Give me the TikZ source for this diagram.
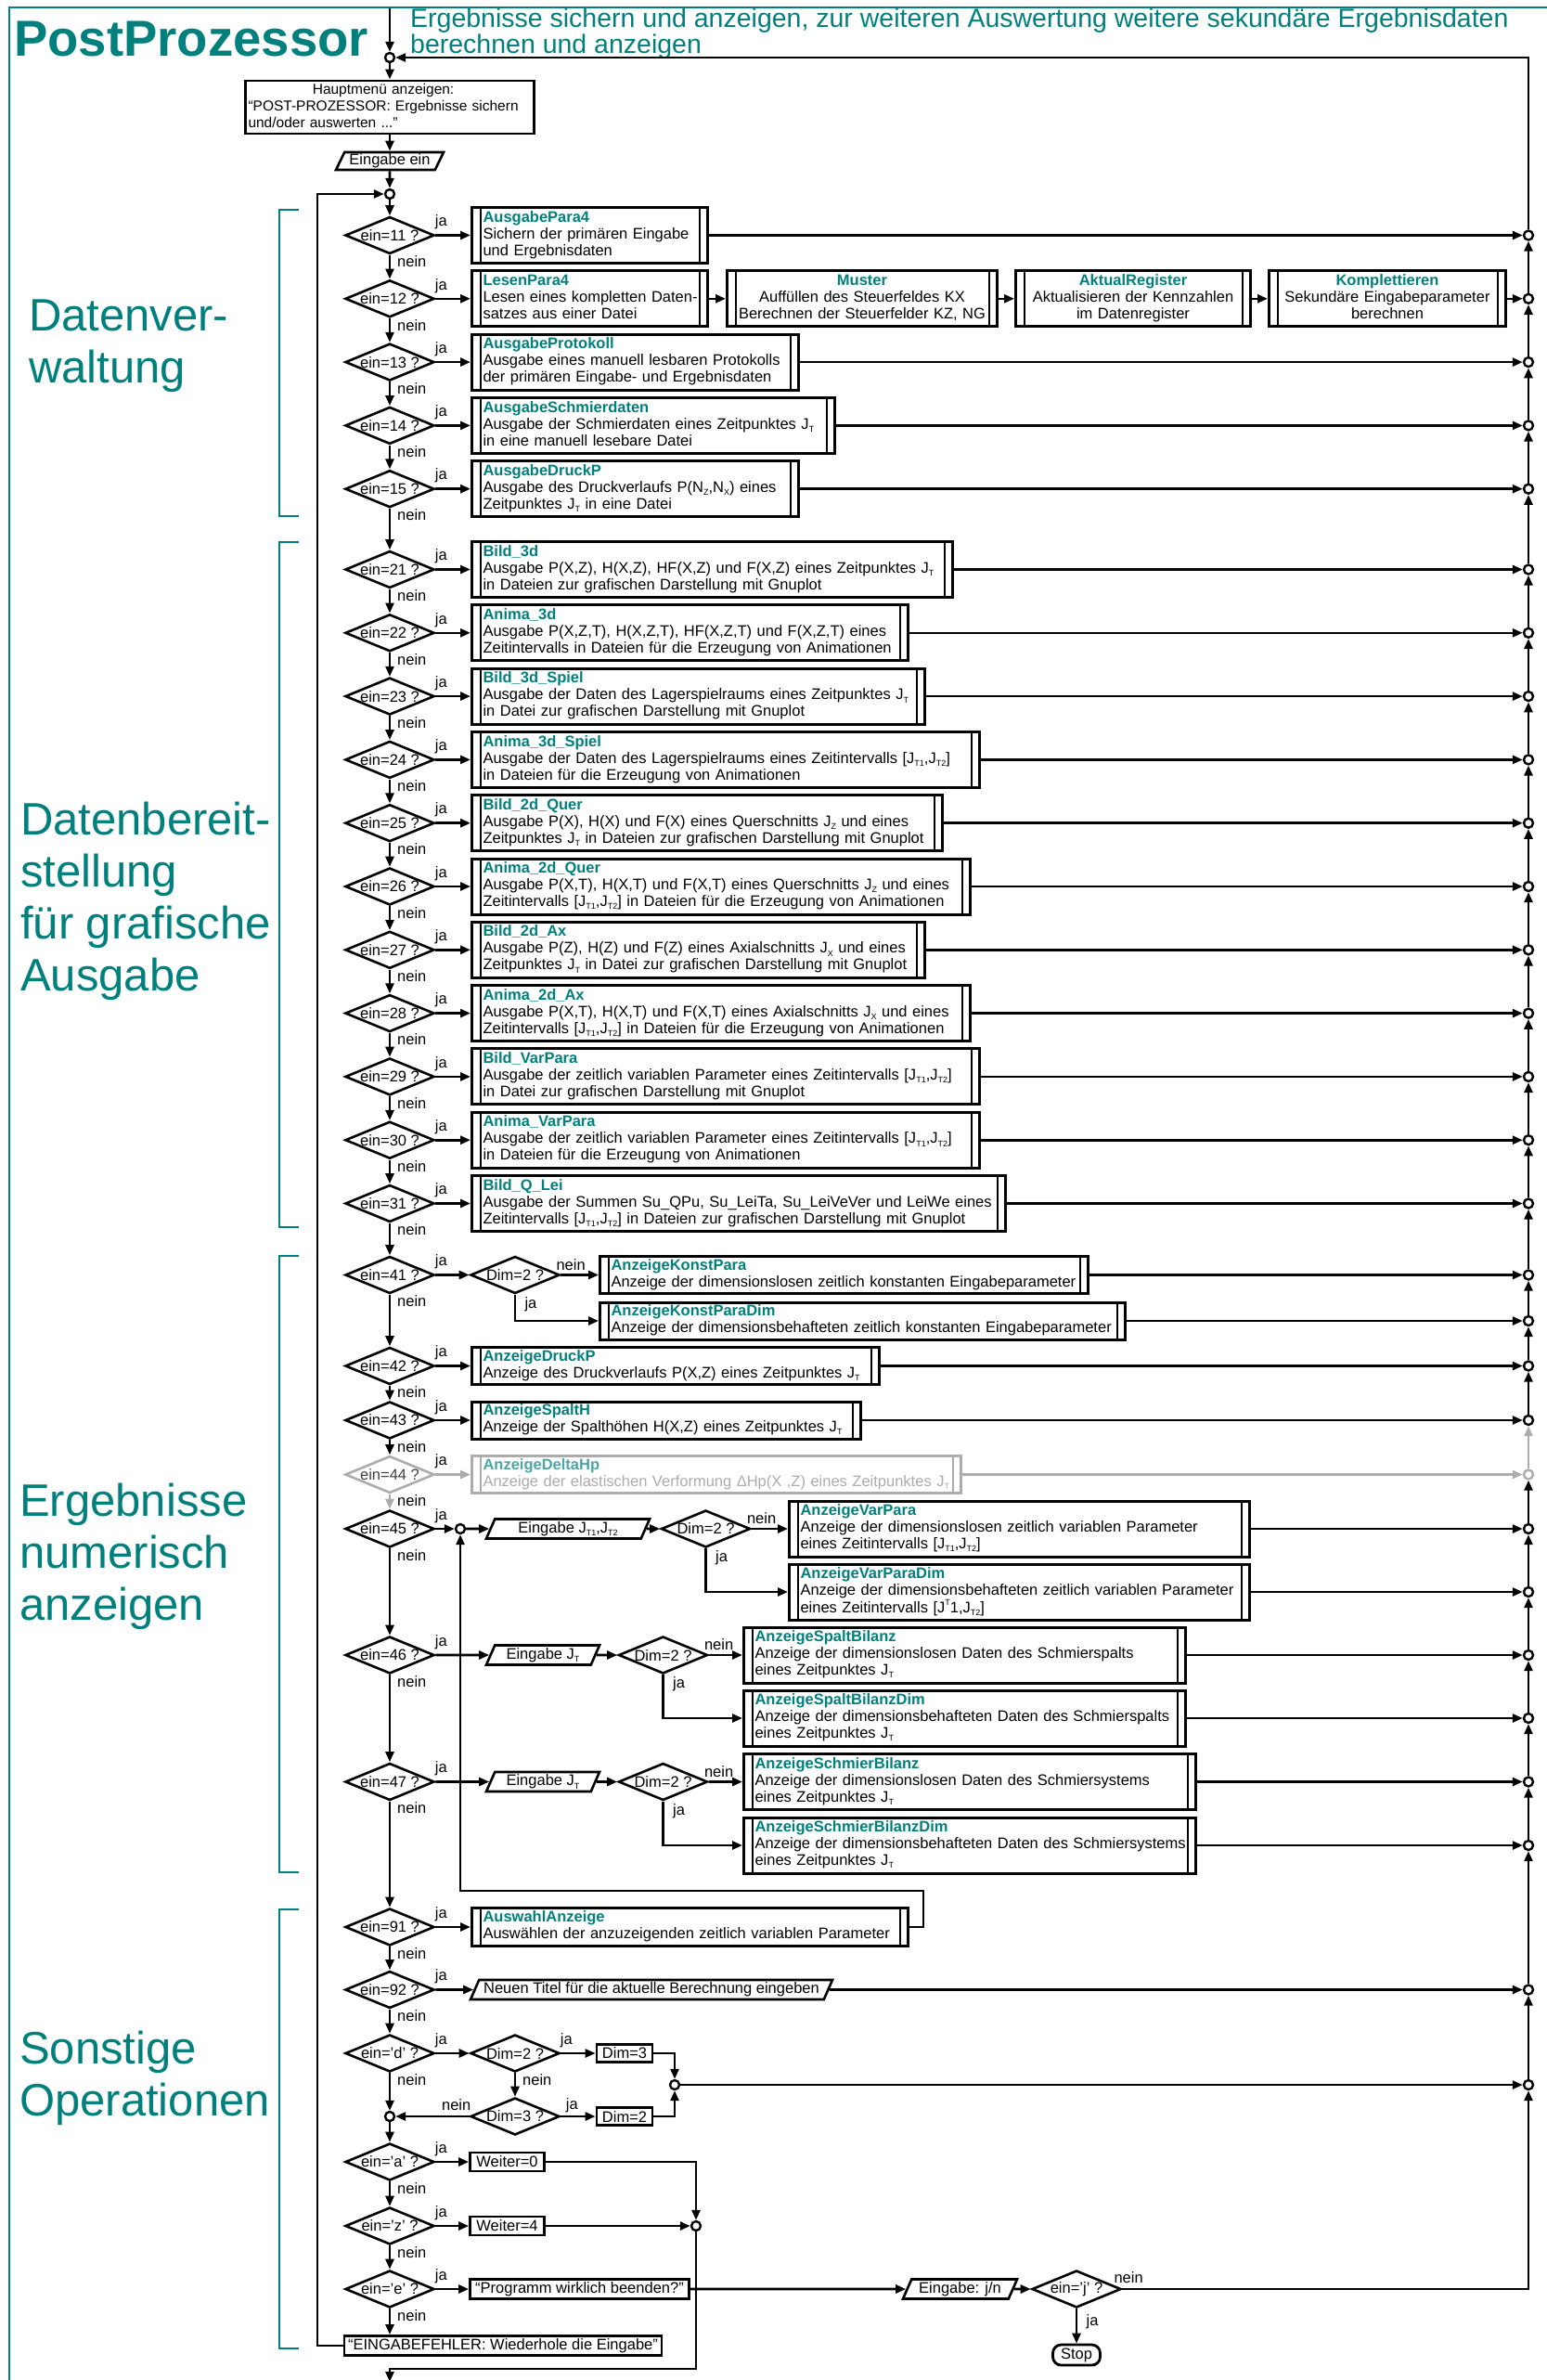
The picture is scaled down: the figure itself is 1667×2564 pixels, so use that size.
\documentclass[tikz,border=0pt]{standalone}
\usepackage{fontspec}
\setmainfont{Liberation Sans}
\usetikzlibrary{shapes.geometric,arrows.meta,calc}

\definecolor{tealc}{RGB}{0,128,125}
\definecolor{greyc}{RGB}{172,172,172}

\newcommand\fnt{\fontsize{16.5}{18}\selectfont}
\newcommand\lo[1]{\raisebox{-0.2em}{\fontsize{9}{9}\selectfont #1}}
\newcommand\hi[1]{\raisebox{0.45em}{\fontsize{9}{9}\selectfont #1}}
\newcommand\ttl[1]{\textcolor{tealc}{\bfseries #1}}
\newcommand\tl[1]{\begin{tabular}{@{}l@{}}#1\end{tabular}}
\newcommand\tcn[1]{\begin{tabular}{@{}c@{}}#1\end{tabular}}
% subroutine box: [options]{name}{left x}{right x}{centre y}{height}{content}
\newcommand\subr[7][]{%
  \pgfmathsetmacro\tw{#4-#3-24}%
  \node[subbox,#1,minimum width=#4-#3,minimum height=#6,text width=\tw pt] (#2) at (#3,#5) {#7};}

\begin{document}
\begin{tikzpicture}[x=1pt,y=-1pt,
  arr/.style={line width=2.6pt,-{Triangle[length=11pt,width=9pt]}},
  subinner/.style={black},
  subbox/.style={draw,line width=3pt,fill=white,anchor=west,inner xsep=12pt,inner ysep=0pt,
    align=left,font=\fnt,
    path picture={
      \draw[line width=2pt,subinner] ([xshift=9pt]path picture bounding box.north west) -- ([xshift=9pt]path picture bounding box.south west);
      \draw[line width=2pt,subinner] ([xshift=-9pt]path picture bounding box.north east) -- ([xshift=-9pt]path picture bounding box.south east);}},
  dec/.style={diamond,draw,line width=2.6pt,fill=white,inner sep=0pt,minimum width=96pt,
    minimum height=40pt,shape aspect=2.4,font=\fnt},
  io/.style={trapezium,trapezium left angle=62,trapezium right angle=118,trapezium stretches body,
    draw,line width=2.6pt,fill=white,inner xsep=2pt,inner ysep=1pt,font=\fnt},
  pbox/.style={draw,line width=2.8pt,fill=white,inner xsep=3pt,inner ysep=1pt,font=\fnt},
  merge/.style={circle,draw,line width=2.4pt,fill=white,inner sep=0pt,minimum size=10pt},
  lab/.style={inner sep=0pt,font=\fnt},
  brk/.style={draw=tealc,line width=2.5pt},
  side/.style={text=tealc,inner sep=0pt,anchor=north west,align=left,font=\fontsize{49}{56}\selectfont},
]
\useasboundingbox (0,0) rectangle (1667,2564);

% frame and headings
\draw[tealc,line width=2.5pt] (10,2564) -- (10,8) -- (1667,8);
\node[anchor=base west,inner sep=0pt,text=tealc,font=\fontsize{54.5}{56}\selectfont\bfseries] (title) at (15,61) {PostProzessor};
\node[anchor=north west,inner sep=0pt,align=left,text=tealc,font=\fontsize{28.5}{27.5}\selectfont] (descr) at (442,9)
  {Ergebnisse sichern und anzeigen, zur weiteren Auswertung weitere sekundäre Ergebnisdaten\\berechnen und anzeigen};

% group labels and brackets
\node[side] (l1) at (31,323) {Datenver-\\waltung};
\node[side] (l2) at (22,863.5) {Datenbereit-\\stellung\\für grafische\\Ausgabe};
\node[side] (l3) at (21,1597.5) {Ergebnisse\\numerisch\\anzeigen};
\node[side] (l4) at (21,2187.5) {Sonstige\\Operationen};
\draw[brk] (322,226) -- (301,226) -- (301,556) -- (322,556);
\draw[brk] (322,584) -- (301,584) -- (301,1322) -- (322,1322);
\draw[brk] (322,1353) -- (301,1353) -- (301,2017) -- (322,2017);
\draw[brk] (322,2057) -- (301,2057) -- (301,2530) -- (322,2530);

% entry
\coordinate (top) at (420,9);
\node[merge] (c0) at (420,62) {};
\node[pbox,minimum width=311pt,minimum height=57pt,text width=305pt,align=left,font=\fontsize{15.5}{18}\selectfont] (hm) at (420,115.5)
  {\tl{\multicolumn{1}{@{}c@{}}{Hauptmenü anzeigen:}\\“POST-PROZESSOR: Ergebnisse sichern\\und/oder auswerten ...”}};
\node[io,minimum width=116pt,minimum height=19pt] (p0) at (420,173.5) {Eingabe ein};
\node[merge] (c1) at (420,209) {};

% main decisions
\foreach \n/\t/\yy in {d11/11/253.5,d12/12/321.8,d13/13/390.1,d14/14/458.4,d15/15/526.7,
  d21/21/613.5,d22/22/681.8,d23/23/750.1,d24/24/818.4,d25/25/886.7,d26/26/955,d27/27/1023.3,
  d28/28/1091.6,d29/29/1159.9,d30/30/1228.2,d31/31/1296.5,d41/41/1373.5,d42/42/1471.5,d43/43/1530,
  d45/45/1647,d46/46/1783,d47/47/1919.5,d91/91/2076,d92/92/2143.5,dd/'d'/2212,da/'a'/2329,dz/'z'/2398,de/'e'/2466}
  \node[dec] (\n) at (420,\yy) {ein=\t{} ?};
\node[dec,draw=greyc,text=black!75] (d44) at (420,1588.5) {ein=44 ?};

% right collecting line
\foreach \n/\yy in {r11/253.5,r12/321.8,r13/390.1,r14/458.4,r15/526.7,r21/613.5,r22/681.8,r23/750.1,
  r24/818.4,r25/886.7,r26/955,r27/1023.3,r28/1091.6,r29/1159.9,r30/1228.2,r31/1296.5,r41a/1373.5,
  r41b/1423,r42/1471.5,r43/1530,r45a/1647,r45b/1715,r46a/1783,r46b/1851,r47a/1919.5,r47b/1988,
  r92/2143.5,rd/2246}
  \node[merge] (\n) at (1647,\yy) {};
\node[merge,draw=greyc] (r44) at (1647,1588.5) {};

% Datenverwaltung
\subr{b11}{507}{761}{253.5}{60}{\tl{\ttl{AusgabePara4}\\Sichern der primären Eingabe\\und Ergebnisdaten}}
\subr{b12}{507}{761}{321.8}{60}{\tl{\ttl{LesenPara4}\\Lesen eines kompletten Daten-\\satzes aus einer Datei}}
\subr[align=center]{m12}{782}{1073}{321.8}{60}{\tcn{\ttl{Muster}\\Auffüllen des Steuerfeldes KX\\Berechnen der Steuerfelder KZ, NG}}
\subr[align=center]{a12}{1093}{1346}{321.8}{60}{\tcn{\ttl{AktualRegister}\\Aktualisieren der Kennzahlen\\im Datenregister}}
\subr[align=center]{k12}{1366}{1621}{321.8}{60}{\tcn{\ttl{Komplettieren}\\Sekundäre Eingabeparameter\\berechnen}}
\subr{b13}{507}{859}{390.1}{60}{\tl{\ttl{AusgabeProtokoll}\\Ausgabe eines manuell lesbaren Protokolls\\der primären Eingabe- und Ergebnisdaten}}
\subr{b14}{507}{898}{458.4}{60}{\tl{\ttl{AusgabeSchmierdaten}\\Ausgabe der Schmierdaten eines Zeitpunktes J\lo{T}\\in eine manuell lesebare Datei}}
\subr{b15}{507}{859}{526.7}{60}{\tl{\ttl{AusgabeDruckP}\\Ausgabe des Druckverlaufs P(N\lo{Z},N\lo{X}) eines\\Zeitpunktes J\lo{T} in eine Datei}}

% Datenbereitstellung
\subr{b21}{507}{1025}{613.5}{60}{\tl{\ttl{Bild\_3d}\\Ausgabe P(X,Z), H(X,Z), HF(X,Z) und F(X,Z) eines Zeitpunktes J\lo{T}\\in Dateien zur grafischen Darstellung mit Gnuplot}}
\subr{b22}{507}{977}{681.8}{60}{\tl{\ttl{Anima\_3d}\\Ausgabe P(X,Z,T), H(X,Z,T), HF(X,Z,T) und F(X,Z,T) eines\\Zeitintervalls in Dateien für die Erzeugung von Animationen}}
\subr{b23}{507}{995}{750.1}{60}{\tl{\ttl{Bild\_3d\_Spiel}\\Ausgabe der Daten des Lagerspielraums eines Zeitpunktes J\lo{T}\\in Datei zur grafischen Darstellung mit Gnuplot}}
\subr{b24}{507}{1054}{818.4}{60}{\tl{\ttl{Anima\_3d\_Spiel}\\Ausgabe der Daten des Lagerspielraums eines Zeitintervalls [J\lo{T1},J\lo{T2}]\\in Dateien für die Erzeugung von Animationen}}
\subr{b25}{507}{1014}{886.7}{60}{\tl{\ttl{Bild\_2d\_Quer}\\Ausgabe P(X), H(X) und F(X) eines Querschnitts J\lo{Z} und eines\\Zeitpunktes J\lo{T} in Dateien zur grafischen Darstellung mit Gnuplot}}
\subr{b26}{507}{1044}{955}{60}{\tl{\ttl{Anima\_2d\_Quer}\\Ausgabe P(X,T), H(X,T) und F(X,T) eines Querschnitts J\lo{Z} und eines\\Zeitintervalls [J\lo{T1},J\lo{T2}] in Dateien für die Erzeugung von Animationen}}
\subr{b27}{507}{995}{1023.3}{60}{\tl{\ttl{Bild\_2d\_Ax}\\Ausgabe P(Z), H(Z) und F(Z) eines Axialschnitts J\lo{X} und eines\\Zeitpunktes J\lo{T} in Datei zur grafischen Darstellung mit Gnuplot}}
\subr{b28}{507}{1044}{1091.6}{60}{\tl{\ttl{Anima\_2d\_Ax}\\Ausgabe P(X,T), H(X,T) und F(X,T) eines Axialschnitts J\lo{X} und eines\\Zeitintervalls [J\lo{T1},J\lo{T2}] in Dateien für die Erzeugung von Animationen}}
\subr{b29}{507}{1054}{1159.9}{60}{\tl{\ttl{Bild\_VarPara}\\Ausgabe der zeitlich variablen Parameter eines Zeitintervalls [J\lo{T1},J\lo{T2}]\\in Datei zur grafischen Darstellung mit Gnuplot}}
\subr{b30}{507}{1054}{1228.2}{60}{\tl{\ttl{Anima\_VarPara}\\Ausgabe der zeitlich variablen Parameter eines Zeitintervalls [J\lo{T1},J\lo{T2}]\\in Dateien für die Erzeugung von Animationen}}
\subr{b31}{507}{1082}{1296.5}{60}{\tl{\ttl{Bild\_Q\_Lei}\\Ausgabe der Summen Su\_QPu, Su\_LeiTa, Su\_LeiVeVer und LeiWe eines\\Zeitintervalls [J\lo{T1},J\lo{T2}] in Dateien zur grafischen Darstellung mit Gnuplot}}

% Ergebnisse numerisch anzeigen
\subr{b41a}{645}{1171}{1373.5}{40}{\tl{\ttl{AnzeigeKonstPara}\\Anzeige der dimensionslosen zeitlich konstanten Eingabeparameter}}
\subr{b41b}{645}{1211}{1423}{40}{\tl{\ttl{AnzeigeKonstParaDim}\\Anzeige der dimensionsbehafteten zeitlich konstanten Eingabeparameter}}
\subr{b42}{507}{946}{1471.5}{40}{\tl{\ttl{AnzeigeDruckP}\\Anzeige des Druckverlaufs P(X,Z) eines Zeitpunktes J\lo{T}}}
\subr{b43}{507}{926}{1530}{40}{\tl{\ttl{AnzeigeSpaltH}\\Anzeige der Spalthöhen H(X,Z) eines Zeitpunktes J\lo{T}}}
\subr[draw=greyc,text=greyc,subinner/.style={greyc}]{b44}{507}{1034}{1588.5}{40}{\tl{\textcolor{tealc!70}{\bfseries AnzeigeDeltaHp}\\Anzeige der elastischen Verformung ΔHp(X ,Z) eines Zeitpunktes J\lo{T}}}
\subr{b45a}{849}{1345}{1647}{60}{\tl{\ttl{AnzeigeVarPara}\\Anzeige der dimensionslosen zeitlich variablen Parameter\\eines Zeitintervalls [J\lo{T1},J\lo{T2}]}}
\subr{b45b}{849}{1345}{1715}{60}{\tl{\ttl{AnzeigeVarParaDim}\\Anzeige der dimensionsbehafteten zeitlich variablen Parameter\\eines Zeitintervalls [J\hi{T}1,J\lo{T2}]}}
\subr{b46a}{800}{1276}{1783}{60}{\tl{\ttl{AnzeigeSpaltBilanz}\\Anzeige der dimensionslosen Daten des Schmierspalts\\eines Zeitpunktes J\lo{T}}}
\subr{b46b}{800}{1276}{1851}{60}{\tl{\ttl{AnzeigeSpaltBilanzDim}\\Anzeige der dimensionsbehafteten Daten des Schmierspalts\\eines Zeitpunktes J\lo{T}}}
\subr{b47a}{800}{1287}{1919.5}{60}{\tl{\ttl{AnzeigeSchmierBilanz}\\Anzeige der dimensionslosen Daten des Schmiersystems\\eines Zeitpunktes J\lo{T}}}
\subr{b47b}{800}{1287}{1988}{60}{\tl{\ttl{AnzeigeSchmierBilanzDim}\\Anzeige der dimensionsbehafteten Daten des Schmiersystems\\eines Zeitpunktes J\lo{T}}}

% Sonstige Operationen
\subr{b91}{507}{977}{2076}{41}{\tl{\ttl{AuswahlAnzeige}\\Auswählen der anzuzeigenden zeitlich variablen Parameter}}

% secondary decisions, inputs and small boxes
\node[dec] (q41) at (555,1373.5) {Dim=2 ?};
\node[merge] (c45) at (496,1647) {};
\node[io,minimum width=176pt,minimum height=21pt] (p45) at (612,1647) {Eingabe J\lo{T1},J\lo{T2}};
\node[dec] (q45) at (760.5,1647) {Dim=2 ?};
\node[io,minimum width=122pt,minimum height=21pt] (p46) at (585,1783) {Eingabe J\lo{T}};
\node[dec] (q46) at (714.5,1783) {Dim=2 ?};
\node[io,minimum width=122pt,minimum height=21pt] (p47) at (585,1919.5) {Eingabe J\lo{T}};
\node[dec] (q47) at (714.5,1919.5) {Dim=2 ?};
\node[io,minimum width=390pt,minimum height=21pt] (p92) at (702,2143.5) {Neuen Titel für die aktuelle Berechnung eingeben};
\node[dec] (qd2) at (555,2212) {Dim=2 ?};
\node[pbox,minimum width=60pt,minimum height=19pt] (bd3) at (673,2212) {Dim=3};
\node[merge] (cd) at (727,2246) {};
\node[dec] (qd3) at (555,2280) {Dim=3 ?};
\node[pbox,minimum width=60pt,minimum height=19pt] (bd2) at (673,2280) {Dim=2};
\node[merge] (cm) at (420,2280) {};
\node[pbox,minimum width=80pt,minimum height=20pt] (w0) at (546.5,2329) {Weiter=0};
\node[pbox,minimum width=80pt,minimum height=20pt] (w4) at (546.5,2398) {Weiter=4};
\node[merge] (cw) at (750,2398) {};
\node[pbox,minimum width=236pt,minimum height=21pt] (pe) at (624.5,2466) {“Programm wirklich beenden?”};
\node[io,minimum width=123pt,minimum height=21pt] (pj) at (1034.5,2466) {Eingabe: j/n};
\node[dec] (dj) at (1160,2466) {ein='j' ?};
\node[draw,line width=2.8pt,fill=white,rounded corners=9pt,minimum width=51pt,minimum height=22pt,inner sep=1pt,font=\fnt] (stop) at (1160,2537) {Stop};
\node[pbox,minimum width=342pt,minimum height=21pt] (ef) at (542,2527) {“EINGABEFEHLER: Wiederhole die Eingabe”};
\coordinate (lp) at (342,2527);
\coordinate (lq) at (995,2037);
\coordinate (lb) at (420,2552);
\coordinate (bot) at (420,2566);

% connectors: entry and loops
\draw[arr] (top) -- (c0);
\draw[arr] (c0) -- (hm);
\draw[arr] (hm) -- (p0);
\draw[arr] (p0) -- (c1);
\draw[arr] (r11.north) |- (c0.east);
\draw[arr] (ef.west) -- (lp) |- (c1.west);

% main downward chain
\foreach \a/\b in {c1/d11,d11/d12,d12/d13,d13/d14,d14/d15,d15/d21,d21/d22,d22/d23,d23/d24,d24/d25,
  d25/d26,d26/d27,d27/d28,d28/d29,d29/d30,d30/d31,d31/d41,d41/d42,d42/d43,d43/d44,d45/d46,d46/d47,
  d47/d91,d91/d92,d92/dd,dd/cm,cm/da,da/dz,dz/de}
  \draw[arr] (\a) -- (\b);
\draw[arr,greyc] (d44) -- (d45);
\draw[arr] (de.south) -- (de.south |- ef.north);

% ja / nein labels of the main decisions
\foreach \n in {d11,d12,d13,d14,d15,d21,d22,d23,d24,d25,d26,d27,d28,d29,d30,d31,d41,d42,d43,d44,
  d45,d46,d47,d91,d92,dd,da,dz,de,qd2} {
  \node[lab] at ($(\n.east)+(6,-14)$) {ja};
  \node[lab,anchor=west] at ($(\n.south)+(8,7)$) {nein};
}

% right collecting line
\foreach \a/\b in {r12/r11,r13/r12,r14/r13,r15/r14,r21/r15,r22/r21,r23/r22,r24/r23,r25/r24,r26/r25,
  r27/r26,r28/r27,r29/r28,r30/r29,r31/r30,r41a/r31,r41b/r41a,r42/r41b,r43/r42,r45a/r44,r45b/r45a,
  r46a/r45b,r46b/r46a,r47a/r46b,r47b/r47a,r92/r47b,rd/r92}
  \draw[arr] (\a) -- (\b);
\draw[arr,greyc] (r44) -- (r43);

% decisions to routines
\foreach \a/\b in {d11/b11,d12/b12,d13/b13,d14/b14,d15/b15,d21/b21,d22/b22,d23/b23,d24/b24,d25/b25,
  d26/b26,d27/b27,d28/b28,d29/b29,d30/b30,d31/b31,d42/b42,d43/b43,d91/b91,b12/m12,m12/a12,a12/k12}
  \draw[arr] (\a.east) -- (\b.west);
\draw[arr,greyc] (d44.east) -- (b44.west);

% routines to the collecting line
\foreach \a/\b in {b11/r11,k12/r12,b13/r13,b14/r14,b15/r15,b21/r21,b22/r22,b23/r23,b24/r24,b25/r25,
  b26/r26,b27/r27,b28/r28,b29/r29,b30/r30,b31/r31,b41a/r41a,b41b/r41b,b42/r42,b43/r43,b45a/r45a,
  b45b/r45b,b46a/r46a,b46b/r46b,b47a/r47a,b47b/r47b}
  \draw[arr] (\a.east) -- (\b.west);
\draw[arr,greyc] (b44.east) -- (r44.west);

% ein=41
\draw[arr] (d41.east) -- (q41.west);
\draw[arr] (q41.east) -- (b41a.west);
\draw[arr] (q41.south) |- (b41b.west);
% ein=45 .. 47
\draw[arr] (d45.east) -- (c45.west);
\draw[arr] (c45.east) -- (p45);
\draw[arr] (p45) -- (q45.west);
\draw[arr] (q45.east) -- (b45a.west);
\draw[arr] (q45.south) |- (b45b.west);
\draw[arr] (d46.east) -- (p46);
\draw[arr] (p46) -- (q46.west);
\draw[arr] (q46.east) -- (b46a.west);
\draw[arr] (q46.south) |- (b46b.west);
\draw[arr] (d47.east) -- (p47);
\draw[arr] (p47) -- (q47.west);
\draw[arr] (q47.east) -- (b47a.west);
\draw[arr] (q47.south) |- (b47b.west);
\foreach \q in {q41,q45,q46,q47} {
  \node[lab,anchor=west] at ($(\q.east)+(-5,-11)$) {nein};
  \node[lab] at ($(\q.south)+(17,10)$) {ja};
}
% ein=91, ein=92
\draw[arr] (b91.east) -| (lq) -| (c45.south);
\draw[arr] (d92.east) -- (p92);
\draw[arr] (p92) -- (r92.west);
% ein='d'
\draw[arr] (dd.east) -- (qd2.west);
\draw[arr] (qd2.east) -- (bd3.west);
\draw[arr] (bd3.east) -| (cd.north);
\draw[arr] (qd2.south) -- (qd3.north);
\draw[arr] (qd3.east) -- (bd2.west);
\draw[arr] (bd2.east) -| (cd.south);
\draw[arr] (qd3.west) -- (cm.east);
\draw[arr] (cd.east) -- (rd.west);
\node[lab] at ($(qd3.west)+(-14,-12)$) {nein};
\node[lab] at ($(qd3.east)+(12,-12)$) {ja};
% ein='a', ein='z'
\draw[arr] (da.east) -- (w0.west);
\draw[arr] (w0.east) -| (cw.north);
\draw[arr] (dz.east) -- (w4.west);
\draw[arr] (w4.east) -- (cw.west);
\draw[arr] (cw.south) |- (lb) -- (bot);
% ein='e'
\draw[arr] (de.east) -- (pe.west);
\draw[arr] (pe.east) -- (pj);
\draw[arr] (pj) -- (dj.west);
\draw[arr] (dj.south) -- (stop.north);
\draw[arr] (dj.east) -| (rd.south);
\node[lab,anchor=west] at ($(dj.east)+(-9,-12)$) {nein};
\node[lab] at ($(dj.south)+(17,14)$) {ja};
\end{tikzpicture}
\end{document}
